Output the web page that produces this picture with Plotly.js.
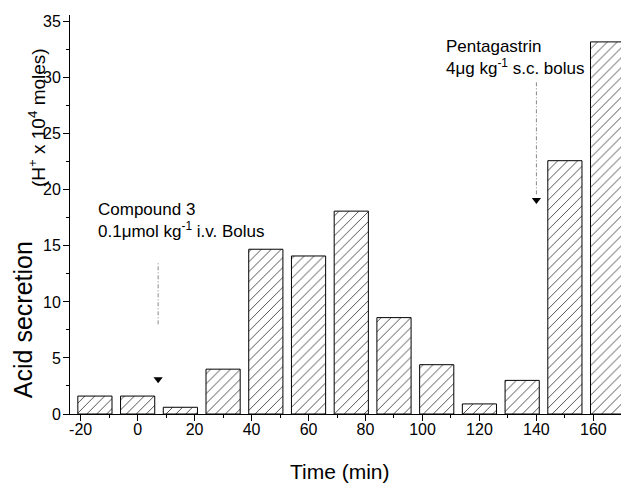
<!DOCTYPE html>
<html>
<head>
<meta charset="utf-8">
<script src="https://cdn.plot.ly/plotly-3.0.1.min.js"></script>
<style>html,body{margin:0;padding:0;background:#fff;}#chart{width:621px;height:484px;}</style>
</head>
<body>
<div id="chart"></div>
<script>
// ---- data ----
const times = [-15, 0, 15, 30, 45, 60, 75, 90, 105, 120, 135, 150, 165];
const acidSecretion = [1.6, 1.6, 0.6, 4.0, 14.7, 14.1, 18.1, 8.6, 4.4, 0.9, 3.0, 22.6, 33.2];
const xTickVals = [-20, 0, 20, 40, 60, 80, 100, 120, 140, 160];
const xTickText = ["-20", "0", "20", "40", "60", "80", "100", "120", "140", "160"];
const yTickVals = [0, 5, 10, 15, 20, 25, 30, 35];
const yTickText = ["0", "5", "10", "15", "20", "25", "30", "35"];
// dosing events: time, dashed-line span, arrowhead level
const doseTimes = [7.2, 140];
const doseLineTop = [13.6, 29.6];
const doseLineBottom = [8.0, 19.6];
const doseArrowY = [3.1, 19.1];
const doseLabels = [
  "Compound 3<br>0.1\u03bcmol kg<sup>-1</sup> i.v. Bolus",
  "Pentagastrin<br>4\u03bcg kg<sup>-1</sup> s.c. bolus"
];

const FONT = "Liberation Sans, Arial, Helvetica, sans-serif";

const traces = [
  {
    type: "bar",
    x: times,
    y: acidSecretion,
    width: 12,
    marker: {
      color: "#ffffff",
      line: { color: "#000000", width: 1 },
      pattern: { shape: "/", fgcolor: "#333333", bgcolor: "#ffffff", size: 7, solidity: 0.12 }
    },
    hoverinfo: "x+y",
    showlegend: false
  },
  {
    type: "scatter",
    mode: "markers",
    x: doseTimes,
    y: doseArrowY,
    marker: { symbol: "triangle-down", size: 8, color: "#000000" },
    showlegend: false,
    cliponaxis: false
  }
];

const shapes = doseTimes.map((t, i) => ({
  type: "line", xref: "x", yref: "y",
  x0: t, x1: t, y0: doseLineBottom[i], y1: doseLineTop[i],
  line: { color: "#8a8a8a", width: 1, dash: "4px,2px,1px,2px" }
}));

const annotations = [
  {
    text: doseLabels[0], xref: "x", yref: "y", x: -14.6, y: 19.3,
    xanchor: "left", yanchor: "top", align: "left", showarrow: false,
    font: { family: FONT, size: 17, color: "#000" }
  },
  {
    text: doseLabels[1], xref: "x", yref: "y", x: 107.6, y: 33.8,
    xanchor: "left", yanchor: "top", align: "left", showarrow: false,
    font: { family: FONT, size: 17, color: "#000" }
  },
  {
    text: "Acid secretion", xref: "paper", yref: "paper",
    x: -0.085, y: 0.2356, xanchor: "center", yanchor: "middle",
    textangle: -90, showarrow: false,
    font: { family: FONT, size: 25, color: "#000" }
  },
  {
    text: "(H<sup>+</sup> x 10<sup>4</sup> moles)", xref: "paper", yref: "paper",
    x: -0.06, y: 0.744, xanchor: "center", yanchor: "middle",
    textangle: -90, showarrow: false,
    font: { family: FONT, size: 19, color: "#000" }
  },
  {
    text: "Time (min)", xref: "paper", yref: "paper",
    x: 0.49, y: -0.143, xanchor: "center", yanchor: "middle",
    showarrow: false,
    font: { family: FONT, size: 21, color: "#000" }
  }
];

const layout = {
  width: 621, height: 484,
  margin: { l: 70, r: 0, t: 15, b: 70, pad: 0 },
  paper_bgcolor: "#ffffff", plot_bgcolor: "#ffffff",
  font: { family: FONT, size: 16, color: "#000" },
  bargap: 0,
  xaxis: {
    range: [-23.75, 169.7],
    tickmode: "array", tickvals: xTickVals, ticktext: xTickText,
    ticks: "outside", ticklen: 6, tickwidth: 1, tickcolor: "#000",
    ticklabelstandoff: -5,
    minor: { dtick: 10, tick0: 0, ticks: "outside", ticklen: 3, tickwidth: 1, tickcolor: "#000" },
    showline: true, linecolor: "#000", linewidth: 1,
    showgrid: false, zeroline: false,
    tickfont: { family: FONT, size: 16, color: "#000" },
    fixedrange: true
  },
  yaxis: {
    range: [0, 35.6],
    tickmode: "array", tickvals: yTickVals, ticktext: yTickText,
    ticks: "outside", ticklen: 6, tickwidth: 1, tickcolor: "#000",
    ticklabelstandoff: -1,
    minor: { dtick: 2.5, tick0: 0, ticks: "outside", ticklen: 3, tickwidth: 1, tickcolor: "#000" },
    showline: true, linecolor: "#000", linewidth: 1,
    showgrid: false, zeroline: false,
    tickfont: { family: FONT, size: 16, color: "#000" },
    fixedrange: true
  },
  shapes: shapes,
  annotations: annotations
};

Plotly.newPlot("chart", traces, layout, { displayModeBar: false, staticPlot: true });
</script>
</body>
</html>
